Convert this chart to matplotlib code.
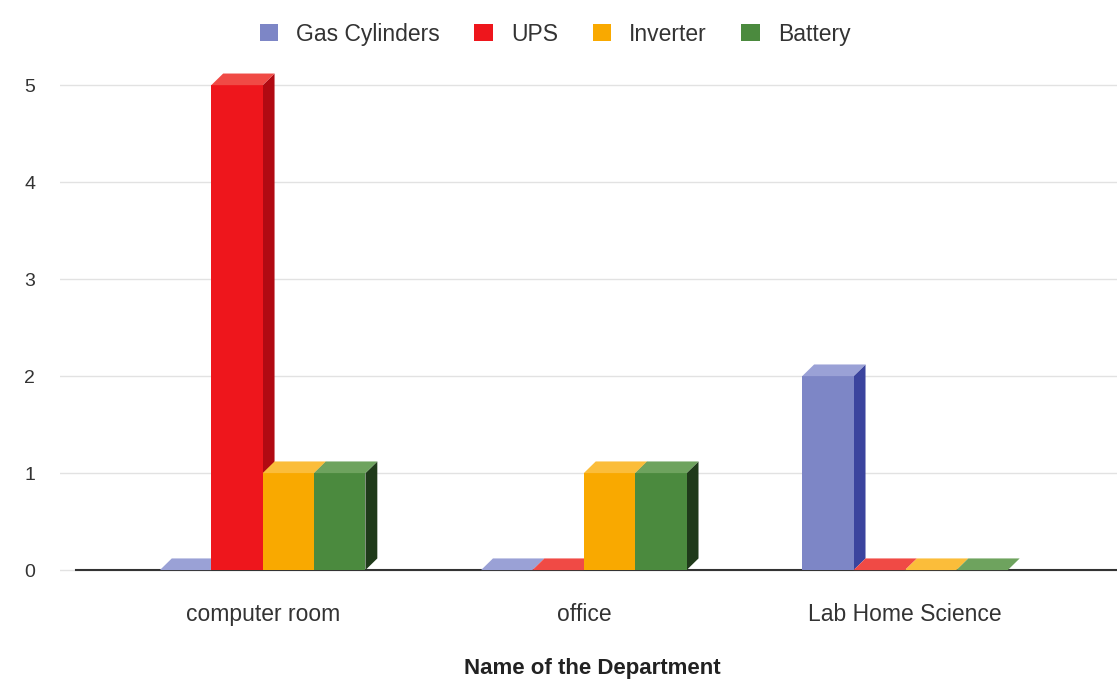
import matplotlib.pyplot as plt
from matplotlib.patches import Polygon, Patch

# data
departments = ['computer room', 'office', 'Lab Home Science']
series_names = ['Gas Cylinders', 'UPS', 'Inverter', 'Battery']
gas_cylinders = [0, 0, 2]
ups = [5, 0, 0]
inverter = [1, 1, 0]
battery = [1, 1, 0]

# front / side / top colours for each series
front_colors = ['#7d86c6', '#ee161c', '#f9a900', '#4b8a3e']
side_colors = ['#3b449e', '#b10a12', '#d88d00', '#1f3a1a']
top_colors = ['#9aa1d6', '#f04a45', '#fbbd3a', '#6ea35e']

plt.rcParams['font.family'] = ['Liberation Sans', 'DejaVu Sans']

fig = plt.figure(figsize=(11.17, 6.79), dpi=100)
ax = fig.add_axes([0.054, 0.139, 0.946, 0.757])

values = [gas_cylinders, ups, inverter, battery]
offsets = [-0.24, -0.08, 0.08, 0.24]
width = 0.16
dx, dy = 0.037, 0.12  # depth of the fake 3d effect, in data units

ax.axhline(0, xmin=0.015, color='#333333', lw=1.5, zorder=1)

z = 2
for i in range(len(departments)):
    for s in range(len(series_names)):
        h = values[s][i]
        x0 = i + offsets[s] - width / 2
        x1 = x0 + width
        ax.bar(x0, h, width=width, align='edge', color=front_colors[s],
               linewidth=0, zorder=z + 0.5)
        side = Polygon([(x1, 0), (x1 + dx, dy), (x1 + dx, h + dy), (x1, h)],
                       closed=True, facecolor=side_colors[s], lw=0, zorder=z)
        top = Polygon([(x0, h), (x1, h), (x1 + dx, h + dy), (x0 + dx, h + dy)],
                      closed=True, facecolor=top_colors[s], lw=0, zorder=z + 0.6)
        ax.add_patch(side)
        ax.add_patch(top)
        z += 1

ax.set_xlim(-0.63, 2.66)
ax.set_ylim(-0.15, 5.15)
ax.set_yticks([0, 1, 2, 3, 4, 5])
ax.set_xticks(range(len(departments)))
ax.set_xticklabels(departments, fontsize=16.5, color='#333333')
ax.tick_params(axis='y', length=0, pad=18, labelsize=14, labelcolor='#333333')
ax.tick_params(axis='x', length=0, pad=13)
ax.yaxis.grid(True, color='#e2e2e2', lw=1)
ax.set_axisbelow(True)
for sp in ax.spines.values():
    sp.set_visible(False)

ax.set_xlabel('Name of the Department', fontsize=16, fontweight='bold',
              color='#222222')
ax.xaxis.label.set_va('center')
ax.xaxis.set_label_coords(0.503, -0.163)

handles = [Patch(facecolor=c, edgecolor='none') for c in front_colors]
fig.legend(handles, series_names, loc='upper center', bbox_to_anchor=(0.497, 0.997),
           ncol=4, frameon=False, fontsize=16.5, handlelength=0.8, handleheight=0.8,
           columnspacing=1.5, handletextpad=0.8, labelcolor='#333333')

plt.savefig('out.png', dpi=100)
